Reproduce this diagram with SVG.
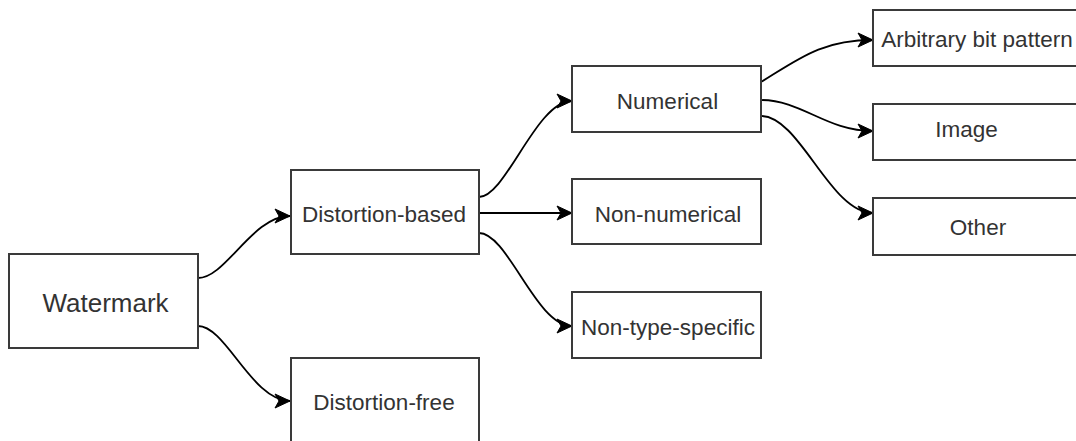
<svg xmlns="http://www.w3.org/2000/svg" width="1076" height="441" viewBox="0 0 1076 441">
<style>
.box{fill:#fff;stroke:#3a3a3a;stroke-width:2}
.lbl{font-family:"Liberation Sans",Arial,sans-serif;font-size:22.5px;fill:#333;text-anchor:middle}
.big{font-size:26px}
.edge{fill:none;stroke:#000;stroke-width:1.8}
</style>
<defs>
<marker id="arr" markerUnits="userSpaceOnUse" markerWidth="18" markerHeight="18" viewBox="0 0 18 18" refX="16" refY="9" orient="auto">
<path d="M16,9 L1,2 L5,9 L1,16 Z" fill="#000" stroke="#000" stroke-width="1" stroke-linejoin="miter"/>
</marker>
</defs>
<rect width="1076" height="441" fill="#fff"/>
<g id="connectors">
<path class="edge" marker-end="url(#arr)" d="M198,278 C226,278 252,216 290,216"/>
<path class="edge" marker-end="url(#arr)" d="M198,326 C226,326 252,401 290,401"/>
<path class="edge" marker-end="url(#arr)" d="M479,197 C506,197 536,101 572,101"/>
<path class="edge" marker-end="url(#arr)" d="M479,213 L572,213"/>
<path class="edge" marker-end="url(#arr)" d="M479,233 C508,233 536,326 572,326"/>
<path class="edge" marker-end="url(#arr)" d="M761,82 C800,58 822,40 873,40"/>
<path class="edge" marker-end="url(#arr)" d="M761,100 C802,100 826,131 873,131"/>
<path class="edge" marker-end="url(#arr)" d="M761,116 C800,116 830,213 873,213"/>
</g>
<g id="watermark"><rect class="box" x="9" y="254" width="189" height="94"/><text class="lbl big" x="105.5" y="311.5">Watermark</text></g>
<g id="distortion-based"><rect class="box" x="291" y="170" width="188" height="84"/><text class="lbl" x="384" y="221.5">Distortion-based</text></g>
<g id="distortion-free"><rect class="box" x="291" y="358" width="188" height="100"/><text class="lbl" x="384" y="409.5">Distortion-free</text></g>
<g id="numerical"><rect class="box" x="572" y="66" width="189" height="66"/><text class="lbl" x="667.5" y="109">Numerical</text></g>
<g id="non-numerical"><rect class="box" x="572" y="179" width="189" height="65"/><text class="lbl" x="668" y="221.5">Non-numerical</text></g>
<g id="non-type-specific"><rect class="box" x="572" y="292" width="189" height="66"/><text class="lbl" x="668" y="335">Non-type-specific</text></g>
<g id="arbitrary"><rect class="box" x="873" y="10" width="250" height="56"/><text class="lbl" x="977" y="46.5">Arbitrary bit pattern</text></g>
<g id="image"><rect class="box" x="873" y="104" width="250" height="56"/><text class="lbl" x="966.5" y="136.5">Image</text></g>
<g id="other"><rect class="box" x="873" y="198" width="250" height="57"/><text class="lbl" x="978" y="235">Other</text></g>
</svg>
